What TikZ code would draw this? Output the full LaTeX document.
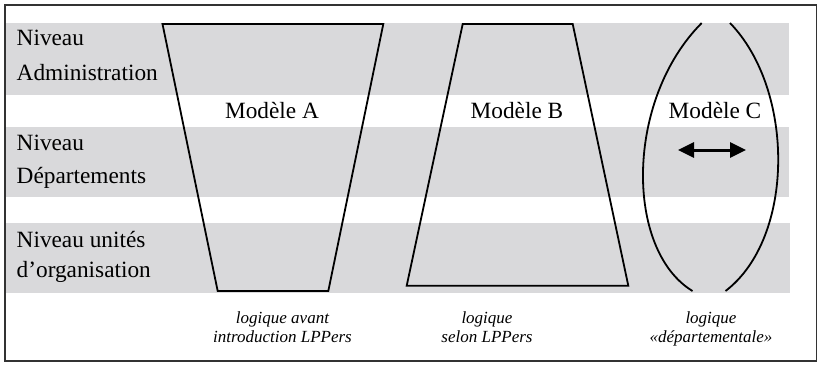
\documentclass[tikz,border=0pt]{standalone}
\usepackage{fontspec}
\setmainfont{Liberation Serif}
\usetikzlibrary{arrows.meta}
\definecolor{bandgray}{RGB}{217,217,219}

\begin{document}
\begin{tikzpicture}[x=1pt,y=-1pt,
    level/.style={font=\fontsize{23.3}{28}\selectfont, anchor=base west, inner sep=0pt},
    model/.style={font=\fontsize{23.3}{28}\selectfont, anchor=base, inner sep=0pt},
    logic/.style={font=\fontsize{17}{19}\selectfont\itshape, anchor=base, inner sep=0pt},
    outline/.style={line width=1.8pt, line join=miter}]
    \useasboundingbox (0,0) rectangle (819,365);

    % the three gray level bands
    \fill[bandgray] (5.5,23.3) rectangle (789,94.5);
    \fill[bandgray] (5.5,126.5) rectangle (789,197.3);
    \fill[bandgray] (5.5,223.3) rectangle (790,292.5);

    % frame
    \draw[line width=1.3pt, black!80] (5,5) rectangle (816.5,361);

    % level names
    \node[level] (adm1) at (16.5,45.7) {Niveau};
    \node[level] (adm2) at (16.5,80) {Administration};
    \node[level] (dep1) at (16.5,150) {Niveau};
    \node[level] (dep2) at (16.5,183.3) {Départements};
    \node[level] (org1) at (16.5,247.7) {Niveau unités};
    \node[level] (org2) at (16.5,277.3) {d’organisation};

    % model A: wide on top
    \coordinate (a1) at (162.5,24);
    \coordinate (a2) at (383.3,24);
    \coordinate (a3) at (328.3,291);
    \coordinate (a4) at (217.7,291);
    \draw[outline] (a1) -- (a2) -- (a3) -- (a4) -- cycle;

    % model B: wide at the bottom
    \coordinate (b1) at (462.7,24);
    \coordinate (b2) at (572.7,24);
    \coordinate (b3) at (628.3,285.7);
    \coordinate (b4) at (406.7,285.7);
    \draw[outline] (b1) -- (b2) -- (b3) -- (b4) -- cycle;

    % model C: open lens
    \coordinate (c1) at (701.7,23);
    \coordinate (c2) at (692.5,291);
    \coordinate (c3) at (730,23);
    \coordinate (c4) at (725.5,291);
    \draw[outline] (c1) .. controls (625,100) and (625,250) .. (c2);
    \draw[outline] (c3) .. controls (795,90) and (795,238) .. (c4);

    \coordinate (w) at (678,150);
    \coordinate (e) at (746,150);
    \draw[line width=3pt,
      {Triangle[length=16pt,width=15pt]}-{Triangle[length=16pt,width=15pt]}] (w) -- (e);

    \node[model] (ma) at (272,118.3) {Modèle A};
    \node[model] (mb) at (517,118.3) {Modèle B};
    \node[model] (mc) at (715,118.3) {Modèle C};

    % captions below
    \node[logic] (la1) at (282.5,323.5) {logique avant};
    \node[logic] (la2) at (282.5,342.5) {introduction LPPers};
    \node[logic] (lb1) at (487,323.5) {logique};
    \node[logic] (lb2) at (487,342) {selon LPPers};
    \node[logic] (lc1) at (711,323.5) {logique};
    \node[logic] (lc2) at (711,342) {«départementale»};
\end{tikzpicture}
\end{document}
